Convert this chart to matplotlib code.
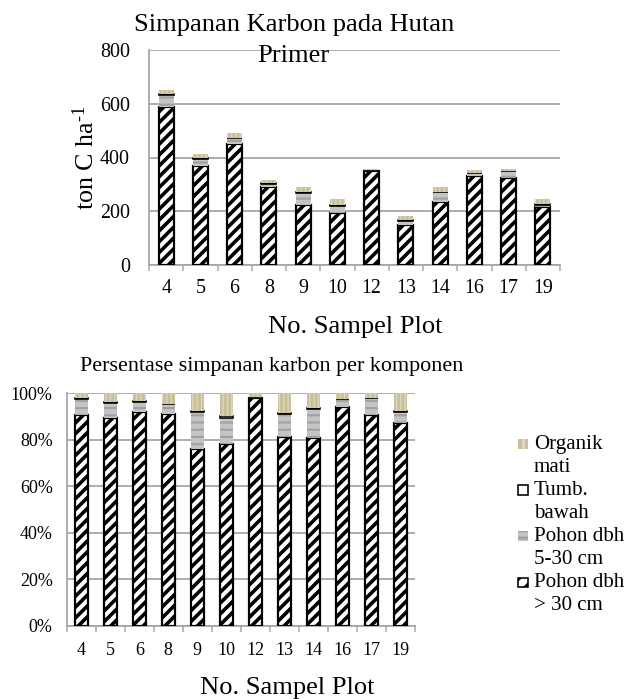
import numpy as np
import matplotlib.pyplot as plt
from matplotlib.patches import Rectangle

DPI = 130
W, H = 626, 699

# carbon stock per plot (ton C / ha)
plots = ["4", "5", "6", "8", "9", "10", "12", "13", "14", "16", "17", "19"]
pohon_besar = [589, 369, 451, 290, 222, 193, 351, 147, 234, 331, 324, 214]   # dbh > 30 cm
pohon_kecil = [45, 26, 21, 13, 47, 28, 1, 18, 37, 12, 26, 11]               # dbh 5-30 cm
tumbuhan_bawah = [3, 2, 2, 1, 1, 2, 0.5, 1, 1, 1, 1, 1]
organik_mati = [13, 16, 16, 14, 22, 24, 5, 15, 18, 8, 7, 19]

yticks_top = [0, 200, 400, 600, 800]
yticks_pct = [0, 20, 40, 60, 80, 100]

TAN = "#c9c09b"
TAN_LINE = "#ddd8c0"
GRAY = "#c4c4c4"
GRAY_LINE = "#a2a2a2"
GRID = "#a6a6a6"
SERIF = "Liberation Serif"

plt.rcParams["font.family"] = SERIF
plt.rcParams["mathtext.fontset"] = "custom"
plt.rcParams["mathtext.rm"] = SERIF
plt.rcParams["mathtext.it"] = SERIF


def pt(px):
    return px * 72 / DPI


def fx(x):
    return x / W


def fy(y):
    return 1 - y / H


def set_hatch_lw(bars, lw):
    for b in bars:
        if hasattr(b, "set_hatch_linewidth"):
            b.set_hatch_linewidth(lw)


def draw_stack(ax, layers, width):
    x = np.arange(len(plots))
    bottom = np.zeros(len(plots))
    styles = [
        dict(facecolor="white", edgecolor="black", hatch="////", linewidth=pt(2.2), hlw=pt(3.6)),
        dict(facecolor=GRAY, edgecolor=GRAY_LINE, hatch="---", linewidth=0, hlw=pt(2.2)),
        dict(facecolor="white", edgecolor="black", hatch=None, linewidth=pt(1.6), hlw=1),
        dict(facecolor=TAN, edgecolor=TAN_LINE, hatch="|||||", linewidth=0, hlw=pt(1.2)),
    ]
    for vals, st in zip(layers, styles):
        st = dict(st)
        hlw = st.pop("hlw")
        with plt.rc_context({"hatch.linewidth": hlw}):
            bars = ax.bar(x, vals, width, bottom=bottom, zorder=3, **st)
        set_hatch_lw(bars, hlw)
        bottom = bottom + np.asarray(vals)


def style_axes(ax, tick_px, xpad, ypad):
    ax.set_xlim(-0.5, len(plots) - 0.5)
    ax.set_xticks(np.arange(len(plots)))
    ax.set_xticklabels(plots)
    ax.set_xticks(np.arange(len(plots) + 1) - 0.5, minor=True)
    ax.tick_params(axis="x", which="major", length=0, pad=pt(xpad), labelsize=pt(tick_px))
    ax.tick_params(axis="x", which="minor", length=pt(6), width=pt(1.5),
                   color=GRID, direction="out")
    ax.tick_params(axis="y", length=0, pad=pt(ypad), labelsize=pt(tick_px))
    for s in ("top", "right"):
        ax.spines[s].set_visible(False)
    for s in ("left", "bottom"):
        ax.spines[s].set_color(GRID)
        ax.spines[s].set_linewidth(pt(1.8))
    ax.yaxis.grid(True, color=GRID, linewidth=pt(1.8))
    ax.set_axisbelow(True)


fig = plt.figure(figsize=(W / DPI, H / DPI), dpi=DPI)

# upper chart: absolute carbon stock
ax1 = fig.add_axes([fx(149), fy(265), (560 - 149) / W, (265 - 50) / H])
draw_stack(ax1, [pohon_besar, pohon_kecil, tumbuhan_bawah, organik_mati], 0.44)
ax1.set_ylim(0, 800)
ax1.set_yticks(yticks_top)
style_axes(ax1, 20, 14, 19)

fig.text(fx(294), fy(31.5), "Simpanan Karbon pada Hutan", ha="center", va="baseline",
         fontsize=pt(26.5))
fig.text(fx(293), fy(61.5), "Primer", ha="center", va="baseline", fontsize=pt(26.5))
fig.text(fx(86), fy(158), r"ton C ha$^{\text{-}1}$", rotation=90, ha="center", va="center",
         fontsize=pt(26))
fig.text(fx(355), fy(333), "No. Sampel Plot", ha="center", va="baseline", fontsize=pt(26.5))

# lower chart: share of each component
layers = np.array([pohon_besar, pohon_kecil, tumbuhan_bawah, organik_mati], dtype=float)
pct = layers / layers.sum(axis=0) * 100

ax2 = fig.add_axes([fx(66.7), fy(626), (415 - 66.7) / W, (626 - 393.3) / H])
draw_stack(ax2, list(pct), 0.46)
ax2.set_ylim(0, 100)
ax2.set_yticks(yticks_pct)
ax2.set_yticklabels([f"{v}%" for v in yticks_pct])
style_axes(ax2, 18, 16, 14)

fig.text(fx(272), fy(370.5), "Persentase simpanan karbon per komponen", ha="center",
         va="baseline", fontsize=pt(22.2))
fig.text(fx(287), fy(694), "No. Sampel Plot", ha="center", va="baseline", fontsize=pt(26.5))

# legend, drawn entry by entry so the key sits on the first text line
legend_items = [
    ("Organik\nmati", dict(facecolor=TAN, edgecolor=TAN_LINE, hatch="|||", linewidth=0)),
    ("Tumb.\nbawah", dict(facecolor="white", edgecolor="black", linewidth=pt(1.6))),
    ("Pohon dbh\n5-30 cm", dict(facecolor=GRAY, edgecolor=GRAY_LINE, hatch="---", linewidth=0)),
    ("Pohon dbh\n> 30 cm", dict(facecolor="white", edgecolor="black", hatch="///",
                                linewidth=pt(1.6))),
]
first_baseline = 448.5
line_step = 23.1
for i, (label, st) in enumerate(legend_items):
    base = first_baseline + i * 2 * line_step
    with plt.rc_context({"hatch.linewidth": pt(3)}):
        key = Rectangle((fx(518), fy(base)), 9.5 / W, 9.5 / H, transform=fig.transFigure, **st)
    fig.patches.append(key)
    line1, line2 = label.split("\n")
    fig.text(fx(534), fy(base), line1, ha="left", va="baseline", fontsize=pt(21))
    fig.text(fx(534), fy(base + line_step), line2, ha="left", va="baseline", fontsize=pt(21))

fig.savefig("out.png", dpi=DPI)
